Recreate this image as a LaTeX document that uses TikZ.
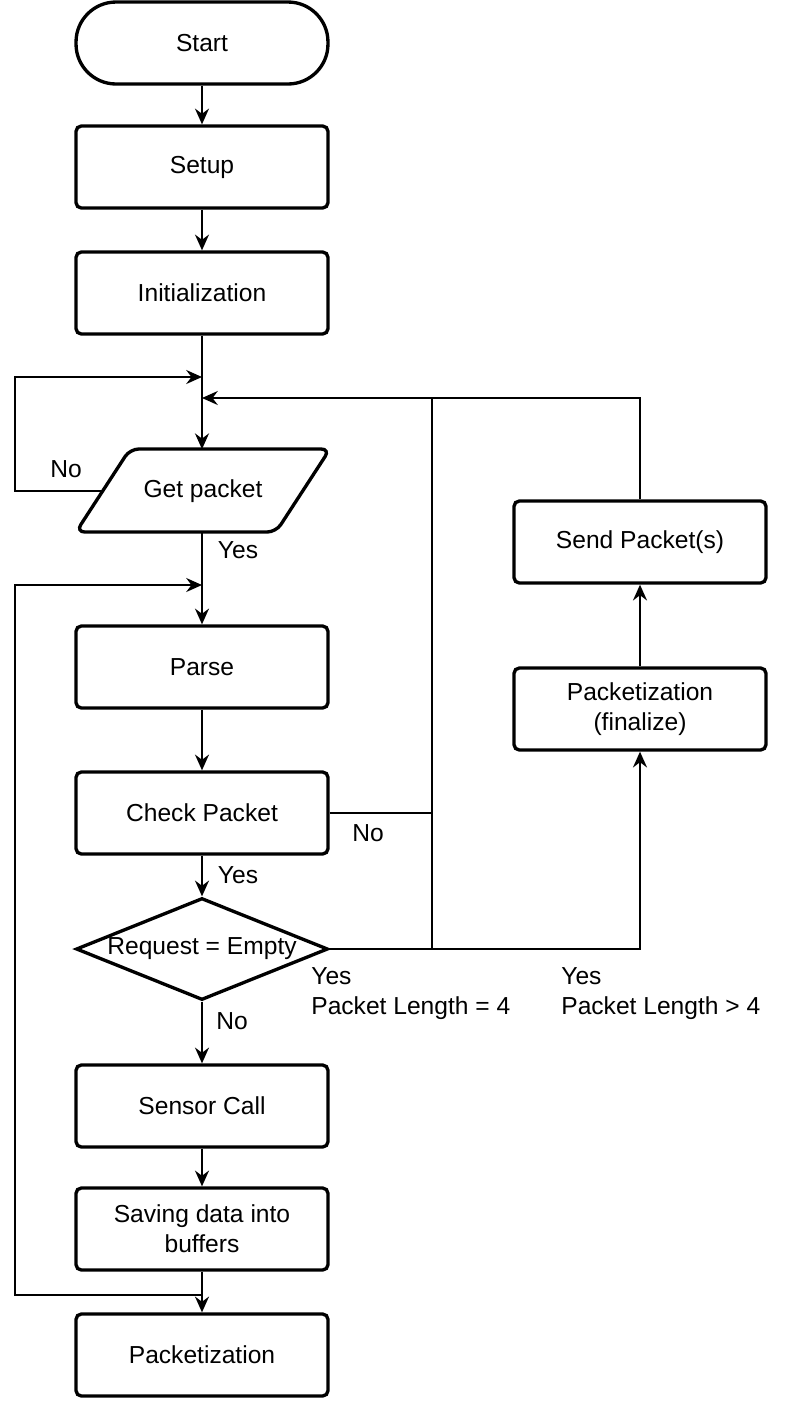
\documentclass[tikz,border=0pt]{standalone}
\usepackage{fontspec}
\setmainfont{Liberation Sans}
\usetikzlibrary{arrows.meta,shapes.geometric,calc}

\tikzset{
  txt/.style={font=\fontsize{14}{17}\selectfont},
  outline/.style={draw, line width=1.9pt},
  stepbox/.style={txt, outline, rounded corners=3pt, align=center,
    minimum width=5.04cm, minimum height=1.64cm},
  terminal/.style={stepbox, rounded corners=0.8cm},
  iotext/.style={txt, minimum height=1.66cm, inner sep=0pt},
  decision/.style={txt, outline, diamond, aspect=2.47, inner sep=-6pt,
    minimum width=5.04cm, minimum height=2.04cm},
  lbl/.style={txt, inner sep=0pt},
  conn/.style={line width=1pt},
  arr/.style={conn, -{Stealth[length=9pt,width=8pt,inset=3pt]}}
}

\begin{document}
\begin{tikzpicture}[x=0.02cm, y=-0.02cm]
	%%%%% START %%%%%
	\useasboundingbox (0,0) rectangle (787,1418);

	% main column
	\node[terminal] (start) at (202, 43) {Start};
	\node[stepbox] (setup) at (202, 167) {Setup};
	\node[stepbox] (init) at (202, 293) {Initialization};
	\node[iotext] (get) at (203, 491) {Get packet};
	\draw[outline, rounded corners=5pt] ($(get)+(-127,41)$) -- ($(get)+(-73,-42)$)
		-- ($(get)+(127,-42)$) -- ($(get)+(73,41)$) -- cycle;
	\node[stepbox] (parse) at (202, 667) {Parse};
	\node[stepbox] (check) at (202, 813) {Check Packet};
	\node[decision] (cond) at (202, 949) {Request = Empty};
	\node[stepbox] (sensor) at (202, 1106) {Sensor Call};
	\node[stepbox] (save) at (202, 1229) {Saving data into\\buffers};
	\node[stepbox] (pack) at (202, 1355) {Packetization};

	% right column
	\node[stepbox] (send) at (640, 542) {Send Packet(s)};
	\node[stepbox] (fin) at (640, 709) {Packetization\\(finalize)};

	% junctions
	\coordinate (lft) at (15, 0);
	\coordinate (getL) at ($(get)+(-102,0)$);
	\coordinate (joinA) at (202, 377);
	\coordinate (joinB) at (202, 398);
	\coordinate (joinC) at (202, 585);
	\coordinate (joinD) at (202, 1295);
	\coordinate (bus) at (432, 398);

	% labels
	\node[lbl] (noGet) at (66, 469) {No};
	\node[lbl] (yesGet) at (238, 550) {Yes};
	\node[lbl] (noCheck) at (368, 833) {No};
	\node[lbl] (yesCheck) at (238, 875) {Yes};
	\node[lbl] (noCond) at (232, 1021) {No};
	\node[lbl, align=left, anchor=north west] (lenEq) at (311, 967) {Yes\\Packet Length = 4};
	\node[lbl, align=left, anchor=north west] (lenGt) at (561, 967) {Yes\\Packet Length > 4};

	% connectors
	\draw[arr] (start) -- (setup);
	\draw[arr] (setup) -- (init);
	\draw[arr] (init) -- (init |- get.north);
	\draw[arr] (getL) -- (getL -| lft) |- (joinA);
	\draw[arr] (send.north) |- (joinB);
	\draw[arr] (get.south -| parse) -- (parse);
	\draw[arr] (joinD) -- (joinD -| lft) |- (joinC);
	\draw[arr] (parse) -- (check);
	\draw[conn] (check.east) -- (check.east -| bus);
	\draw[conn] (bus) -- (bus |- cond.east);
	\draw[arr] (check) -- (cond);
	\draw[arr] (cond.east) -| (fin.south);
	\draw[arr] (fin) -- (send);
	\draw[arr] (cond) -- (sensor);
	\draw[arr] (sensor) -- (save);
	\draw[arr] (save) -- (pack);
	%%%%% END %%%%%
\end{tikzpicture}
\end{document}
